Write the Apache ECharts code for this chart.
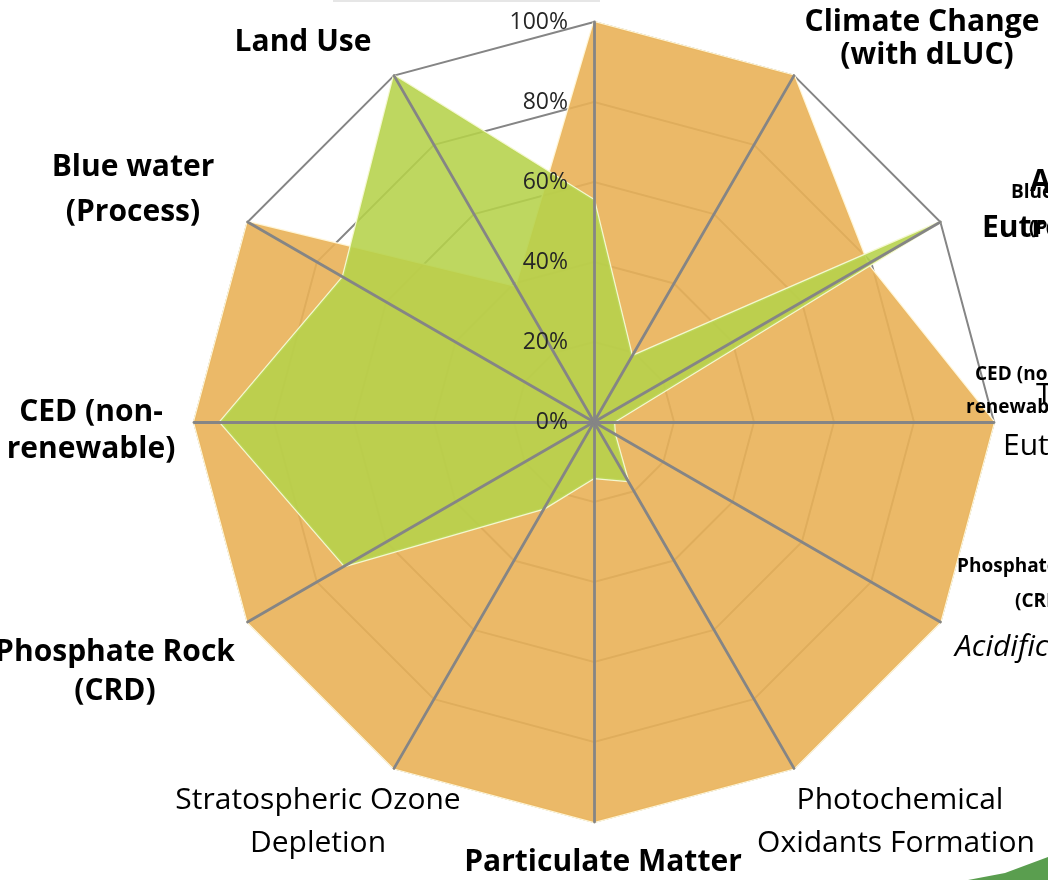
<!DOCTYPE html>
<html>
<head>
<meta charset="utf-8">
<script src="https://cdn.jsdelivr.net/npm/echarts@6/dist/echarts.min.js"></script>
<style>
    html, body { margin: 0; padding: 0; background: #fff; }
    #chart { width: 1048px; height: 880px; }
</style>
</head>
<body>
<div id="chart"></div>
<script>
    // axes, counter-clockwise from the top (ECharts radar order); top axis name is cut off in the source
    var axisNames = ['', 'Land Use', 'Blue water\n(Process)', 'CED (non-\nrenewable)', 'Phosphate Rock\n(CRD)',
        'Stratospheric Ozone\nDepletion', 'Particulate Matter', 'Photochemical\nOxidants Formation',
        'Acidification', 'Terrestrial\nEutrophication', 'Aquatic\nEutrophication', 'Climate Change\n(with dLUC)'];
    var orangeValues = [100, 39, 100, 100, 100, 100, 100, 100, 100, 100, 79, 100];
    var greenValues = [55.5, 100, 72.5, 93.5, 72, 25, 14, 17, 6, 5, 100, 19];
    var tickLabels = ['0%', '20%', '40%', '60%', '80%', '100%'];
    // stray labels of an overlapping chart at the right edge
    var strayLabels = ['Blue water', '(Process)', 'CED (non-', 'renewable)', 'Phosphate Rock', '(CRD)'];

    // label placement: one [x, y] per line
    var labelLayout = [
        null,
        {align: 'center', weight: 'bold', pos: [[303, 42]]},
        {align: 'center', weight: 'bold', pos: [[133, 167], [133, 212]]},
        {align: 'center', weight: 'bold', pos: [[91, 412], [91, 449]]},
        {align: 'center', weight: 'bold', pos: [[115, 652], [115, 691]]},
        {align: 'center', weight: 'normal', pos: [[318, 800], [318, 843]]},
        {align: 'center', weight: 'bold', pos: [[603, 862]]},
        {align: 'center', weight: 'normal', pos: [[900, 800], [896, 843]]},
        {align: 'left', weight: 'normal', italic: true, pos: [[955, 647]]},
        {align: 'left', weight: 'normal', pos: [[1036, 395], [1003, 446]]},
        {align: 'left', weight: 'bold', pos: [[1030, 182], [982, 228]]},
        {align: 'center', weight: 'bold', pos: [[922, 22], [927, 55]]}
    ];
    var strayPos = [[1011, 193], [1029, 229], [975, 375], [966, 408], [957, 567], [1015, 602]];

    var chart = echarts.init(document.getElementById('chart'));

    var graphics = [
        {type: 'rect', shape: {x: 333, y: 0, width: 267, height: 2}, style: {fill: '#e6e6e6'}},
        {type: 'polygon', shape: {points: [[968, 880], [1005, 873], [1048, 857], [1048, 880]]}, style: {fill: '#5a9e4f'}}
    ];
    axisNames.forEach(function (name, i) {
        var lay = labelLayout[i];
        if (!lay) return;
        name.split('\n').forEach(function (line, j) {
            graphics.push({
                type: 'text', z: 100,
                x: lay.pos[j][0], y: lay.pos[j][1],
                style: {
                    text: line, fill: '#000',
                    font: (lay.italic ? 'italic ' : '') + lay.weight + ' 30px "Open Sans"',
                    textAlign: lay.align, textVerticalAlign: 'middle'
                }
            });
        });
    });
    strayLabels.forEach(function (t, i) {
        graphics.push({
            type: 'text', z: 101, x: strayPos[i][0], y: strayPos[i][1],
            style: {text: t, fill: '#000', font: 'bold 19px "Open Sans"', textAlign: 'left', textVerticalAlign: 'middle'}
        });
    });

    var baseIndicators = axisNames.map(function (n) { return {name: n, min: 0, max: 100}; });
    var topIndicators = axisNames.map(function (n, i) {
        var ind = {name: n, min: 0, max: 100};
        if (i === 0) {
            ind.axisLabel = {
                show: true, color: '#262626', fontSize: 23, fontFamily: 'Open Sans', margin: 26,
                formatter: function (v) { return tickLabels[Math.round(v / 20)]; }
            };
        }
        return ind;
    });

    var option = {
        animation: false,
        backgroundColor: '#fff',
        graphic: graphics,
        radar: [
            {
                indicator: baseIndicators,
                center: [594, 422], radius: 400, startAngle: 90, splitNumber: 5, shape: 'polygon',
                axisName: {show: false},
                axisLine: {show: false},
                axisLabel: {show: false},
                splitLine: {lineStyle: {color: '#858585', width: 2}},
                splitArea: {show: false},
                z: 0
            },
            {
                indicator: topIndicators,
                center: [594, 422], radius: 400, startAngle: 90, splitNumber: 5, shape: 'polygon',
                axisName: {show: false},
                axisLine: {show: true, lineStyle: {color: '#858585', width: 2.8}},
                axisLabel: {show: false},
                splitLine: {show: false},
                splitArea: {show: false},
                z: 10
            }
        ],
        series: [{
            type: 'radar', radarIndex: 0, symbol: 'none',
            data: [
                {
                    name: 'Orange', value: orangeValues,
                    areaStyle: {color: '#e9b158', opacity: 0.9},
                    lineStyle: {color: '#fff6d8', width: 2.5}
                },
                {
                    name: 'Green', value: greenValues,
                    areaStyle: {color: '#b5d24a', opacity: 0.88},
                    lineStyle: {color: '#f4f8d0', width: 2.5}
                }
            ]
        }]
    };
    chart.setOption(option);
</script>
</body>
</html>
